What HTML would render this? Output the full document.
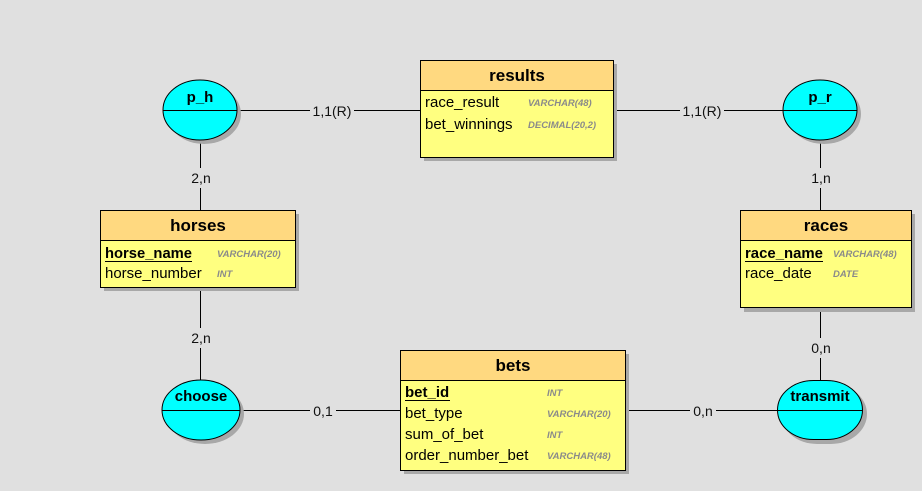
<!DOCTYPE html>
<html><head><meta charset="utf-8"><style>
html,body{margin:0;padding:0;background:#e0e0e0;}
svg{display:block;}
.t{font-family:"Liberation Sans",sans-serif;font-weight:bold;font-size:17px;fill:#000;}
.a{font-family:"Liberation Sans",sans-serif;font-size:15px;fill:#000;}
.k{font-family:"Liberation Sans",sans-serif;font-size:15px;font-weight:bold;fill:#000;}
.y{font-family:"Liberation Sans",sans-serif;font-size:9.5px;font-weight:bold;font-style:italic;fill:#8a8a8a;}
.c{font-family:"Liberation Sans",sans-serif;font-size:14px;fill:#111;}
</style></head><body>
<svg width="922" height="491" viewBox="0 0 922 491" xmlns="http://www.w3.org/2000/svg">
<rect width="922" height="491" fill="#e0e0e0"/>
<g stroke="#000" stroke-width="1">
<line x1="237" y1="110.5" x2="310" y2="110.5"/><line x1="354" y1="110.5" x2="420" y2="110.5"/>
<line x1="613" y1="110.5" x2="680" y2="110.5"/><line x1="724" y1="110.5" x2="783" y2="110.5"/>
<line x1="200.5" y1="140" x2="200.5" y2="168"/><line x1="200.5" y1="188" x2="200.5" y2="210"/>
<line x1="820.5" y1="140" x2="820.5" y2="168"/><line x1="820.5" y1="188" x2="820.5" y2="210"/>
<line x1="200.5" y1="287" x2="200.5" y2="328"/><line x1="200.5" y1="348" x2="200.5" y2="380"/>
<line x1="820.5" y1="308" x2="820.5" y2="338"/><line x1="820.5" y1="358" x2="820.5" y2="380"/>
<line x1="240" y1="410.5" x2="310" y2="410.5"/><line x1="336" y1="410.5" x2="400" y2="410.5"/>
<line x1="625" y1="410.5" x2="690" y2="410.5"/><line x1="716" y1="410.5" x2="777" y2="410.5"/>
</g>
<g text-anchor="middle" class="c">
<text x="332" y="116" class="c">1,1(R)</text>
<text x="702" y="116" class="c">1,1(R)</text>
<text x="201" y="183" class="c">2,n</text>
<text x="821" y="183" class="c">1,n</text>
<text x="201" y="343" class="c">2,n</text>
<text x="821" y="353" class="c">0,n</text>
<text x="323" y="416" class="c">0,1</text>
<text x="703" y="416" class="c">0,n</text>
</g>
<g fill="#a8a8a8">
<rect x="424" y="64" width="193" height="97"/>
<rect x="104" y="214" width="195" height="77"/>
<rect x="744" y="214" width="171" height="98"/>
<rect x="404" y="354" width="225" height="120"/>
<ellipse cx="204" cy="114" rx="37" ry="30"/>
<ellipse cx="824" cy="114" rx="37" ry="30"/>
<ellipse cx="205" cy="414" rx="39" ry="30"/>
<rect x="781" y="384" width="86" height="60" rx="36" ry="30"/>
</g>
<rect x="420.5" y="60.5" width="193" height="97" fill="#ffff80" stroke="#000"/>
<rect x="420.5" y="60.5" width="193" height="30" fill="#ffd980" stroke="#000"/>
<text x="517" y="81" class="t" text-anchor="middle">results</text>
<text x="425" y="107" class="a">race_result</text><text x="528" y="106" class="y">VARCHAR(48)</text>
<text x="425" y="129" class="a">bet_winnings</text><text x="528" y="128" class="y">DECIMAL(20,2)</text>
<rect x="100.5" y="210.5" width="195" height="77" fill="#ffff80" stroke="#000"/>
<rect x="100.5" y="210.5" width="195" height="30" fill="#ffd980" stroke="#000"/>
<text x="198" y="231" class="t" text-anchor="middle">horses</text>
<text x="105" y="258" class="k" textLength="87" lengthAdjust="spacingAndGlyphs">horse_name</text><line x1="105" y1="261.5" x2="192" y2="261.5" stroke="#000"/>
<text x="217" y="257" class="y">VARCHAR(20)</text>
<text x="105" y="278" class="a">horse_number</text><text x="217" y="277" class="y">INT</text>
<rect x="740.5" y="210.5" width="171" height="97" fill="#ffff80" stroke="#000"/>
<rect x="740.5" y="210.5" width="171" height="30" fill="#ffd980" stroke="#000"/>
<text x="826" y="231" class="t" text-anchor="middle">races</text>
<text x="745" y="258" class="k" textLength="78" lengthAdjust="spacingAndGlyphs">race_name</text><line x1="745" y1="261.5" x2="823" y2="261.5" stroke="#000"/>
<text x="833" y="257" class="y">VARCHAR(48)</text>
<text x="745" y="278" class="a">race_date</text><text x="833" y="277" class="y">DATE</text>
<rect x="400.5" y="350.5" width="225" height="120" fill="#ffff80" stroke="#000"/>
<rect x="400.5" y="350.5" width="225" height="30" fill="#ffd980" stroke="#000"/>
<text x="513" y="371" class="t" text-anchor="middle">bets</text>
<text x="405" y="397" class="k">bet_id</text><line x1="405" y1="400.5" x2="450" y2="400.5" stroke="#000"/>
<text x="547" y="396" class="y">INT</text>
<text x="405" y="418" class="a">bet_type</text><text x="547" y="417" class="y">VARCHAR(20)</text>
<text x="405" y="439" class="a">sum_of_bet</text><text x="547" y="438" class="y">INT</text>
<text x="405" y="460" class="a">order_number_bet</text><text x="547" y="459" class="y">VARCHAR(48)</text>
<g fill="#00ffff" stroke="#000">
<ellipse cx="200" cy="110" rx="37" ry="30"/>
<ellipse cx="820" cy="110" rx="37" ry="30"/>
<ellipse cx="201" cy="410" rx="39" ry="30"/>
<rect x="777.5" y="380.5" width="85" height="59" rx="36" ry="30"/>
</g>
<g stroke="#000">
<line x1="163" y1="110.5" x2="237" y2="110.5"/>
<line x1="783" y1="110.5" x2="857" y2="110.5"/>
<line x1="162" y1="410.5" x2="240" y2="410.5"/>
<line x1="777" y1="410.5" x2="862" y2="410.5"/>
</g>
<text x="200" y="102" class="t" text-anchor="middle" style="font-size:15px">p_h</text>
<text x="820" y="102" class="t" text-anchor="middle" style="font-size:15px">p_r</text>
<text x="201" y="401" class="t" text-anchor="middle" style="font-size:15px">choose</text>
<text x="820" y="401" class="t" text-anchor="middle" style="font-size:15px">transmit</text>
</svg>
</body></html>
